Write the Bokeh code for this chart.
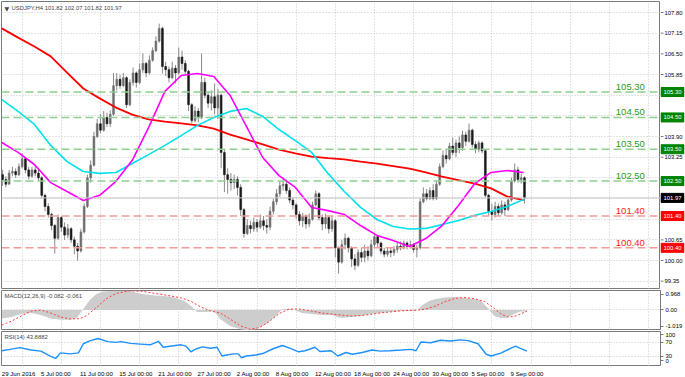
from bokeh.plotting import figure
from bokeh.layouts import column, row
from bokeh.models import (Range1d, FixedTicker, Span, Label, ColumnDataSource,
                          Grid, CustomJSTickFormatter)
from bokeh.core.properties import value
from bokeh.embed import file_html
from bokeh.resources import INLINE

# ---------------- data ----------------
symbol_title = "USDJPY,H4  101.82 102.07 101.82 101.97"
macd_title = "MACD(12,26,9) -0.082 -0.061"
rsi_title = "RSI(14) 43.8882"

tick_bars = [0, 24, 48, 72, 96, 120, 144, 168, 192, 216, 240, 264, 288, 312]
tick_labels = ["29 Jun 2016", "5 Jul 00:00", "11 Jul 00:00", "15 Jul 00:00", "21 Jul 00:00",
               "27 Jul 00:00", "2 Aug 00:00", "8 Aug 00:00", "12 Aug 00:00", "18 Aug 00:00",
               "24 Aug 00:00", "30 Aug 00:00", "5 Sep 00:00", "9 Sep 00:00"]
grid_bars = [12.5, 36.5, 60.5, 84.5, 108.5, 132.5, 156.5, 180.5, 204.5, 228.5, 252.5,
             276.5, 300.5, 324.5, 348.5, 372.5, 396.5]
price_ticks = [107.80, 107.15, 106.50, 105.85, 105.20, 104.55, 103.90, 103.25, 102.60,
               101.95, 101.30, 100.65, 100.00, 99.35]
price_tick_labels = ["107.80", "107.15", "106.50", "105.85", "105.20", "104.55", "103.90",
                     "103.25", "102.60", "101.95", "101.30", "100.65", "100.00", "99.35"]
price_last = 101.97
green_levels = [105.30, 104.50, 103.50, 102.50]
red_levels = [101.40, 100.40]

# 8-hour candles (two H4 bars each)
first_open = 102.70
closes = [102.55, 102.40, 102.75, 102.80, 102.70, 102.95, 103.20, 102.85, 102.65, 102.85,
          102.75, 102.60, 102.05, 101.70, 101.45, 101.10, 100.70, 101.35, 101.05, 100.80,
          101.00, 100.65, 100.45, 100.30, 100.90, 101.70, 102.60, 103.00, 103.90, 104.30,
          104.10, 104.50, 104.30, 104.60, 105.50, 105.70, 105.50, 105.75, 104.90, 105.60,
          105.90, 105.60, 106.00, 106.20, 105.90, 106.30, 106.60, 106.90, 107.30, 106.10,
          106.00, 105.75, 106.05, 105.90, 106.40, 106.20, 105.95, 104.90, 104.40, 104.70,
          104.50, 105.60, 105.20, 104.95, 105.15, 104.80, 105.20, 103.40, 102.70, 102.55,
          102.45, 102.55, 102.30, 101.60, 100.85, 101.10, 101.00, 101.20, 101.05, 101.25,
          101.10, 101.05, 101.55, 101.85, 102.10, 102.35, 102.40, 102.20, 101.90, 101.75,
          101.45, 101.25, 101.40, 101.15, 101.30, 101.75, 102.10, 101.35, 101.15, 101.35,
          101.00, 101.25, 100.40, 99.95, 100.50, 100.70, 100.40, 100.05, 99.85, 100.25,
          100.10, 100.30, 100.15, 100.50, 100.75, 100.55, 100.30, 100.20, 100.30, 100.25,
          100.35, 100.45, 100.40, 100.55, 100.45, 100.50, 100.35, 100.40, 101.85, 102.10,
          101.95, 102.20, 101.95, 102.40, 102.95, 103.30, 103.20, 103.60, 103.40, 103.70,
          103.55, 103.95, 103.75, 104.10, 103.65, 103.50, 103.70, 103.45, 102.05, 101.55,
          101.45, 101.70, 101.50, 101.75, 101.60, 101.90, 102.50, 102.85, 102.55, 102.60,
          101.97]
highs = [102.85, 102.65, 102.85, 102.95, 102.90, 103.05, 103.37, 103.25, 102.95, 102.95,
         103.00, 102.85, 102.65, 102.10, 101.80, 101.50, 101.15, 101.45, 101.40, 101.20,
         101.15, 101.05, 100.75, 100.55, 101.00, 101.80, 102.70, 103.15, 104.05, 104.45,
         104.60, 104.70, 104.65, 104.72, 105.90, 105.90, 105.85, 105.90, 105.80, 105.70,
         106.07, 105.95, 106.20, 106.51, 106.25, 106.45, 106.70, 107.05, 107.45, 107.35,
         106.25, 106.10, 106.25, 106.15, 106.70, 106.60, 106.30, 106.00, 104.95, 104.85,
         104.80, 106.51, 105.75, 105.30, 105.35, 105.57, 105.40, 105.25, 103.50, 102.90,
         102.75, 102.70, 102.65, 102.40, 101.65, 101.30, 101.25, 101.35, 101.30, 101.45,
         101.40, 101.30, 101.70, 101.95, 102.25, 102.50, 102.61, 102.55, 102.30, 102.00,
         101.80, 101.55, 101.50, 101.45, 101.48, 101.85, 102.20, 102.15, 101.45, 101.48,
         101.40, 101.40, 101.30, 100.45, 100.65, 100.85, 100.75, 100.45, 100.20, 100.35,
         100.40, 100.50, 100.45, 100.65, 100.85, 100.80, 100.60, 100.40, 100.41, 100.40,
         100.45, 100.55, 100.60, 100.63, 100.60, 100.63, 100.55, 100.50, 101.95, 102.30,
         102.25, 102.30, 102.40, 102.52, 103.05, 103.46, 103.50, 103.70, 103.87, 103.80,
         103.90, 104.09, 104.05, 104.31, 104.15, 103.75, 103.77, 103.75, 103.50, 102.10,
         101.79, 101.85, 101.80, 101.89, 101.85, 102.00, 102.61, 103.05, 102.95, 102.74,
         102.65]
lows = [102.35, 102.30, 102.40, 102.65, 102.60, 102.65, 102.90, 102.75, 102.55, 102.60,
        102.65, 102.50, 101.95, 101.55, 101.35, 100.95, 100.22, 100.65, 100.90, 100.65,
        100.70, 100.55, 100.20, 100.00, 100.25, 100.85, 101.65, 102.45, 102.95, 103.85,
        104.00, 104.05, 104.20, 104.20, 104.55, 105.35, 105.40, 105.45, 104.80, 104.85,
        105.50, 105.44, 105.55, 105.90, 105.76, 105.85, 106.25, 106.55, 106.85, 105.88,
        105.80, 105.60, 105.70, 105.57, 105.85, 106.00, 105.85, 104.70, 104.31, 104.35,
        104.35, 104.45, 105.10, 104.80, 104.72, 104.60, 104.45, 102.90, 102.15, 102.10,
        102.20, 102.25, 102.05, 101.40, 100.72, 100.80, 100.85, 100.90, 100.90, 101.00,
        100.95, 100.85, 100.95, 101.45, 101.75, 102.00, 102.20, 102.10, 101.80, 101.60,
        101.30, 101.10, 101.05, 101.00, 101.05, 101.25, 101.70, 101.26, 100.95, 101.00,
        100.85, 100.90, 100.10, 99.59, 99.90, 100.35, 100.25, 99.80, 99.69, 99.80,
        99.95, 99.95, 100.00, 100.10, 100.40, 100.40, 100.20, 100.10, 100.12, 100.10,
        100.15, 100.25, 100.32, 100.35, 100.35, 100.38, 100.25, 100.10, 100.35, 101.80,
        101.89, 101.90, 101.89, 101.90, 102.35, 102.90, 103.05, 103.15, 103.30, 103.25,
        103.37, 103.45, 103.60, 103.70, 103.55, 103.37, 103.40, 103.37, 101.98, 101.40,
        101.26, 101.35, 101.40, 101.45, 101.40, 101.55, 101.85, 102.45, 102.45, 102.42,
        101.79]

# moving averages, read every 10 H4 bars
ma_bars = [0, 10, 20, 30, 40, 50, 60, 70, 80, 90, 100, 110, 120, 130, 140, 150, 160,
           170, 180, 190, 200, 210, 220, 230, 240, 250, 260, 270, 280, 290, 300, 310, 320]
ma_red = [107.30, 107.01, 106.73, 106.42, 105.91, 105.41, 105.10, 104.81, 104.59, 104.44,
          104.37, 104.31, 104.25, 104.15, 103.96, 103.81, 103.65, 103.49, 103.37, 103.27,
          103.22, 103.18, 103.11, 103.05, 102.97, 102.89, 102.77, 102.64, 102.53, 102.42,
          102.27, 102.01, 101.90]
ma_cyan = [105.06, 104.69, 104.28, 103.62, 103.11, 102.80, 102.74, 102.77, 103.05, 103.33,
           103.62, 103.93, 104.25, 104.50, 104.69, 104.78, 104.53, 104.12, 103.77, 103.40,
           102.74, 102.17, 101.67, 101.29, 101.07, 100.99, 101.01, 101.13, 101.26, 101.42,
           101.54, 101.70, 101.92]
ma_magenta = [103.71, 103.40, 103.02, 102.45, 102.17, 101.89, 102.05, 102.49, 103.15, 104.18,
              105.32, 105.82, 105.88, 105.79, 105.19, 104.22, 103.24, 102.67, 102.30, 101.67,
              101.57, 101.45, 101.10, 100.79, 100.63, 100.44, 100.69, 101.10, 101.73, 102.42,
              102.77, 102.83, 102.77]

macd_bars = [0, 6, 12, 18, 24, 30, 36, 42, 46, 50, 54, 58, 62, 70, 78, 86, 94, 100, 106, 112,
             116, 120, 126, 130, 134, 140, 146, 150, 156, 162, 168, 172, 178, 184, 190, 196,
             202, 208, 214, 220, 226, 232, 238, 244, 250, 254, 258, 262, 266, 272, 278, 284,
             290, 294, 298, 302, 306, 310, 314, 318, 322]
macd_main = [-0.42, -0.35, -0.20, -0.15, -0.25, -0.42, -0.48, -0.48, -0.40, 0.05, 0.50, 0.80,
             0.92, 0.96, 0.95, 0.80, 0.72, 0.70, 0.62, 0.45, 0.20, -0.10, -0.10, -0.05, -0.45,
             -0.80, -0.95, -1.00, -0.95, -0.70, -0.30, 0.05, 0.05, -0.15, -0.20, -0.25, -0.25,
             -0.40, -0.35, -0.30, -0.20, -0.15, -0.10, -0.05, -0.05, -0.05, 0.25, 0.45, 0.55,
             0.62, 0.65, 0.60, 0.55, 0.45, 0.10, -0.30, -0.40, -0.38, -0.20, -0.08, -0.082]
sig_bars = [0, 6, 12, 18, 24, 30, 36, 42, 48, 52, 58, 64, 70, 78, 86, 92, 100, 110, 116, 122,
            128, 134, 140, 146, 152, 158, 164, 170, 176, 182, 190, 196, 202, 208, 214, 220,
            226, 232, 238, 244, 250, 256, 260, 266, 272, 278, 284, 290, 296, 302, 306, 310,
            314, 318, 322]
macd_signal = [-0.75, -0.55, -0.30, -0.05, 0.0, -0.15, -0.35, -0.45, -0.43, -0.28, 0.12, 0.55,
               0.82, 0.95, 0.93, 0.85, 0.75, 0.60, 0.43, 0.15, -0.05, -0.15, -0.45, -0.78,
               -0.95, -0.88, -0.58, -0.18, 0.04, 0.05, -0.05, -0.15, -0.20, -0.25, -0.30,
               -0.28, -0.22, -0.15, -0.10, -0.05, -0.02, 0.0, 0.05, 0.20, 0.42, 0.58, 0.62,
               0.56, 0.42, 0.08, -0.20, -0.34, -0.33, -0.20, -0.061]
macd_range = [-1.019, 0.968]
macd_ticks = [0.79, 0.0, -0.82]
macd_tick_labels = ["0.968", "0.00", "-1.019"]

rsi_bars = [0, 5, 11, 18, 24, 30, 33, 36, 42, 47, 50, 54, 59, 65, 70, 73, 79, 85, 91, 96,
            99, 103, 110, 113, 116, 119, 123, 128, 132, 135, 138, 142, 145, 147, 150, 156,
            160, 166, 172, 177, 182, 186, 192, 195, 202, 206, 211, 215, 221, 227, 232, 238,
            245, 251, 254, 257, 263, 269, 275, 281, 286, 292, 297, 300, 306, 312, 315, 318, 322]
rsi_vals = [45, 49, 54, 47, 44, 29, 23, 39, 36, 39, 65, 73, 80, 71, 69, 71, 66, 64, 62, 72,
            55, 58, 62, 58, 42, 50, 56, 52, 55, 30, 33, 36, 36, 25, 30, 33, 37, 50, 60, 52,
            42, 45, 55, 43, 45, 30, 40, 35, 40, 47, 44, 45, 47, 49, 45, 70, 68, 75, 73, 76,
            74, 65, 35, 30, 38, 52, 58, 52, 43.89]
rsi_levels = [30, 70]
rsi_ticks = [90.6, 70, 30, 17]
rsi_tick_labels = ["100", "70", "30", "0"]

# ---------------- styling / layout ----------------
FONT = "Liberation Sans"
SMALL = "5.9px"
DATE_SIZE = "6.1px"
FW = 659
GRID_COL = "#c6c6c6"
BORDER = "#7a7a7a"
xr = Range1d(-0.18, 403.9)


def make_fig(fh, yr, top, bottom, axis=True):
    p = figure(frame_width=FW, frame_height=fh, x_range=xr, y_range=yr,
               output_backend="svg", toolbar_location=None,
               x_axis_location=None, y_axis_location="right" if axis else None,
               min_border_left=1, min_border_right=24 if axis else 0,
               min_border_top=top, min_border_bottom=bottom,
               background_fill_color="white", border_fill_color="white",
               outline_line_color=BORDER, outline_line_width=1)
    p.grid.visible = False
    if axis:
        ax = p.yaxis[0]
        ax.axis_line_color = None
        ax.major_tick_out = 3
        ax.major_tick_in = 0
        ax.minor_tick_line_color = None
        ax.major_tick_line_color = BORDER
        ax.major_label_text_font = FONT
        ax.major_label_text_font_size = SMALL
        ax.major_label_text_color = "#000000"
        ax.major_label_standoff = 2
    return p


def add_grid(p, dim, ticks):
    p.add_layout(Grid(dimension=dim, ticker=FixedTicker(ticks=ticks),
                      grid_line_color=GRID_COL, grid_line_dash="1 2", grid_line_width=1))


def lookup_formatter(ticks, labels):
    return CustomJSTickFormatter(args=dict(t=ticks, l=labels), code="""
        for (let i = 0; i < t.length; i++) { if (Math.abs(tick - t[i]) < 1e-6) return l[i]; }
        return '';
    """)


# ---- main price panel ----
yr_main = Range1d(99.089, 108.146)
p1 = make_fig(288, yr_main, 1, 0, axis=False)
add_grid(p1, 0, grid_bars)
add_grid(p1, 1, price_ticks)

opens = [first_open] + closes[:-1]
cx = [2 * k + 0.5 for k in range(len(closes))]
src = ColumnDataSource(dict(
    x=cx, high=highs, low=lows,
    top=[max(o, c) for o, c in zip(opens, closes)],
    bot=[min(o, c) for o, c in zip(opens, closes)],
    col=["#6e6e6e" if c >= o else "#1a1a1a" for o, c in zip(opens, closes)]))
p1.segment(x0="x", y0="low", x1="x", y1="high", source=src, line_color="#8a8a8a", line_width=1)
p1.vbar(x="x", width=1.1, top="top", bottom="bot", source=src,
        fill_color="col", line_color="col", line_width=0.6)

p1.add_layout(Span(location=price_last, dimension="width", line_color="#c8c8c8", line_width=1))

p1.line(ma_bars, ma_red, line_color="#ff0000", line_width=1.8)
p1.line(ma_bars, ma_cyan, line_color="#00e1ee", line_width=1.6)
p1.line(ma_bars, ma_magenta, line_color="#ff00ff", line_width=1.6)

for levels, lcol, tcol in ((green_levels, "#8fd08f", "#1e9a1e"), (red_levels, "#f29a9a", "#ff2020")):
    for lv in levels:
        p1.add_layout(Span(location=lv, dimension="width", line_color=lcol,
                           line_dash="8 4", line_width=1.5))
        p1.add_layout(Label(x=376.5, y=lv, y_offset=2, text=f"{lv:.2f}", text_color=tcol,
                            text_font=FONT, text_font_size="9.5px", text_baseline="bottom"))

p1.add_layout(Label(x=xr.start, y=yr_main.end, x_offset=3, y_offset=-3, text="\u25bc",
                    text_font="DejaVu Sans", text_font_size="6px", text_baseline="top"))
p1.add_layout(Label(x=xr.start, y=yr_main.end, x_offset=10, y_offset=-3, text=symbol_title,
                    text_font=FONT, text_font_size=SMALL, text_baseline="top"))

# ---- price scale strip (right of the main panel) ----
a1 = figure(frame_width=24, frame_height=288, x_range=Range1d(0, 24), y_range=yr_main,
            output_backend="svg", toolbar_location=None,
            x_axis_location=None, y_axis_location=None,
            min_border_left=0, min_border_right=1, min_border_top=1, min_border_bottom=0,
            outline_line_color=None, background_fill_color="white", border_fill_color="white")
a1.grid.visible = False
n = len(price_ticks)
a1.segment(x0=[0] * n, y0=price_ticks, x1=[3] * n, y1=price_ticks, line_color=BORDER, line_width=1)
a1.text(x=[4] * n, y=price_ticks, text=price_tick_labels, text_font=value(FONT),
        text_font_size=SMALL, text_baseline="middle", text_align="left", text_color="#000000")
box_levels = green_levels + red_levels + [price_last]
box_colors = ["#008400"] * len(green_levels) + ["#ff0000"] * len(red_levels) + ["#000000"]
a1.rect(x=[12] * len(box_levels), y=box_levels, width=23, height=9, height_units="screen",
        fill_color=box_colors, line_color=box_colors)
a1.text(x=[3] * len(box_levels), y=box_levels, text=[f"{v:.2f}" for v in box_levels],
        text_font=value(FONT), text_font_size=SMALL, text_baseline="middle",
        text_align="left", text_color="white")

# ---- MACD panel ----
p2 = make_fig(40, Range1d(*macd_range), 1, 0)
p2.yaxis[0].ticker = FixedTicker(ticks=macd_ticks)
p2.yaxis[0].formatter = lookup_formatter(macd_ticks, macd_tick_labels)
add_grid(p2, 0, grid_bars)
add_grid(p2, 1, [0.0])
p2.varea(x=macd_bars, y1=0, y2=macd_main, fill_color="#cdcdcd")
p2.line(sig_bars, macd_signal, line_color="#ff3a3a", line_dash="2 2", line_width=1)
p2.add_layout(Label(x=xr.start, y=macd_range[1], x_offset=3, y_offset=-2, text=macd_title,
                    text_font=FONT, text_font_size=SMALL, text_baseline="top"))

# ---- RSI panel ----
p3 = make_fig(35, Range1d(0, 100), 1, 0)
p3.yaxis[0].ticker = FixedTicker(ticks=rsi_ticks)
p3.yaxis[0].formatter = lookup_formatter(rsi_ticks, rsi_tick_labels)
add_grid(p3, 0, grid_bars)
add_grid(p3, 1, rsi_levels)
p3.line(rsi_bars, rsi_vals, line_color="#1e90ff", line_width=1.4)
p3.add_layout(Label(x=xr.start, y=100, x_offset=3, y_offset=-2, text=rsi_title,
                    text_font=FONT, text_font_size=SMALL, text_baseline="top"))

# ---- time scale strip ----
pd_ = figure(frame_width=FW, frame_height=11, x_range=xr, y_range=Range1d(0, 11),
             output_backend="svg", toolbar_location=None,
             x_axis_location=None, y_axis_location=None,
             min_border_left=1, min_border_right=25, min_border_top=0, min_border_bottom=0,
             outline_line_color=None, background_fill_color="white", border_fill_color="white")
pd_.grid.visible = False
pd_.text(x=tick_bars, y=[5.5] * len(tick_bars), text=tick_labels, text_font=value(FONT),
         text_font_size=DATE_SIZE, text_baseline="middle", text_align="left", text_color="#000000")

layout = column(row(p1, a1, spacing=0), p2, p3, pd_, spacing=0)
open("out.html", "w").write(file_html(layout, INLINE))
